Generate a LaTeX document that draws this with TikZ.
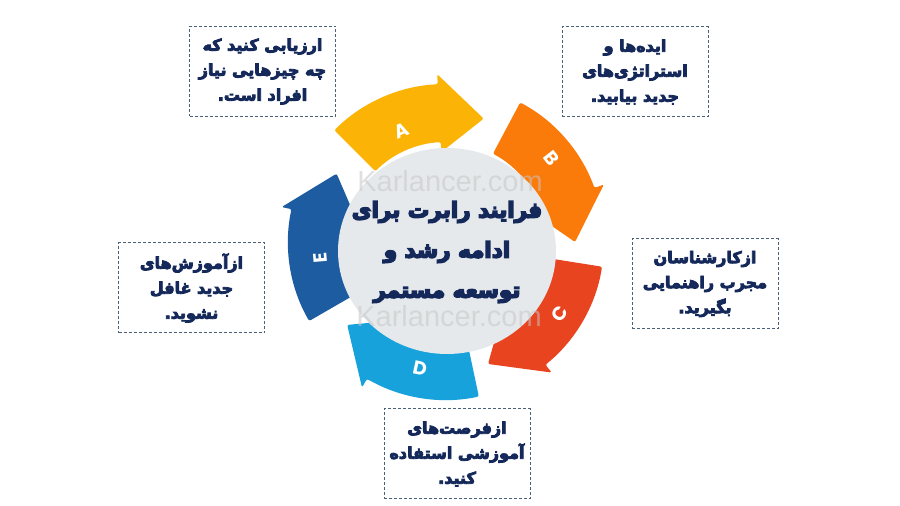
\documentclass[tikz,border=0pt]{standalone}
\usepackage{fontspec}
\TeXXeTstate=1
\newfontfamily\fa[Script=Arabic, BoldFont={DejaVu Sans Bold}, BoldFeatures={FakeBold=5}]{DejaVu Sans}
\newfontfamily\fatitle[Script=Arabic, BoldFont={DejaVu Sans Bold}, BoldFeatures={FakeBold=7}]{DejaVu Sans}
\newfontfamily\lat{Poppins}
\newfontfamily\wmfont{Liberation Sans}
\definecolor{cA}{HTML}{FBB405}
\definecolor{cB}{HTML}{FB7B0A}
\definecolor{cC}{HTML}{E84420}
\definecolor{cD}{HTML}{17A2DC}
\definecolor{cE}{HTML}{1D5CA0}
\definecolor{navy}{HTML}{14285A}
\definecolor{boxc}{HTML}{4A6076}
\definecolor{disc}{HTML}{E6E9EC}
\newcommand\ringarrow[2]{%
  \pgfmathsetmacro\rtA{#1}\pgfmathsetmacro\rtB{#1-42}\pgfmathsetmacro\rtC{#1-62}%
  \fill[#2, rounded corners=2pt] (\rtA:158pt) arc[start angle=\rtA, end angle=\rtB, radius=158pt]
    -- (\rtB:168pt) -- (\rtC:129pt) -- (\rtB:90pt) -- (\rtB:100pt)
    arc[start angle=\rtB, end angle=\rtA, radius=100pt] -- cycle;}
\begin{document}
\begin{tikzpicture}[x=1pt,y=1pt,
  infobox/.style={draw=boxc, line width=1pt, dash pattern=on 3pt off 2pt, fill=white,
    minimum width=146pt, minimum height=90pt, inner sep=0pt, align=center, text=navy,
    font=\fa\bfseries\fontsize{16}{25}\selectfont},
  letter/.style={text=white, font=\lat\bfseries\fontsize{19}{19}\selectfont, inner sep=0pt},
  mark wm/.style={text=gray!45, opacity=0.55, font=\wmfont\fontsize{29}{29}\selectfont, inner sep=0pt}]
\useasboundingbox (0,0) rectangle (900,506);
\fill[white] (0,0) rectangle (900,506);
\begin{scope}[shift={(446,264)}]
  \ringarrow{135}{cA}
  \ringarrow{62}{cB}
  \ringarrow{-9}{cC}
  \ringarrow{-78}{cD}
  \ringarrow{-150}{cE}
\end{scope}
\node[letter, rotate=22] (la) at (401,375) {A};
\node[letter, rotate=-52] (lb) at (552,348) {B};
\node[letter, rotate=58] (lc) at (560,192) {C};
\node[letter, rotate=-12] (ld) at (420,138) {D};
\node[letter, rotate=95] (le) at (320,248) {E};
\fill[disc] (447,255) ellipse[x radius=109, y radius=103];
\node[mark wm] (wm1) at (450,325) {Karlancer.com};
\node[mark wm] (wm2) at (449,190) {Karlancer.com};
\node[text=navy, align=center, inner sep=0pt, font=\fatitle\bfseries\fontsize{21.5}{40}\selectfont] (title) at (447,254)
  {\beginR فرایند رابرت برای\endR\\\beginR ادامه رشد و\endR\\\beginR توسعه مستمر\endR};
\node[infobox] (bA) at (262.5,434.5) {\beginR ارزیابی کنید که\endR\\\beginR چه چیزهایی نیاز\endR\\\beginR افراد است.\endR};
\node[infobox] (bB) at (635,434) {\beginR ایده‌ها و\endR\\\beginR استراتژی‌های\endR\\\beginR جدید بیابید.\endR};
\node[infobox] (bC) at (705,222) {\beginR ازکارشناسان\endR\\\beginR مجرب راهنمایی\endR\\\beginR بگیرید.\endR};
\node[infobox] (bE) at (191.5,218) {\beginR ازآموزش‌های\endR\\\beginR جدید غافل\endR\\\beginR نشوید.\endR};
\node[infobox] (bD) at (457,52) {\beginR ازفرصت‌های\endR\\\beginR آموزشی استفاده\endR\\\beginR کنید.\endR};
\end{tikzpicture}
\end{document}
